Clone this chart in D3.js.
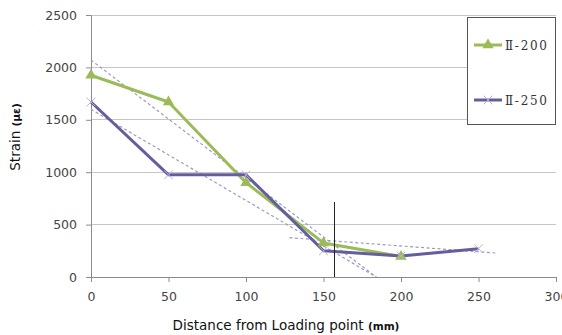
<!DOCTYPE html>
<html><head><meta charset="utf-8">
<script src="https://cdn.jsdelivr.net/npm/d3@7"></script>
<style>body{margin:0;background:#fff;}svg{display:block;}</style>
</head><body>
<svg id="c" width="562" height="335"></svg>
<script>
const distances = [0, 50, 100, 150, 200, 250];
const seriesNames = ["Ⅱ-200", "Ⅱ-250"];
const values200 = [1925, 1670, 900, 325, 195];
const values250 = [1670, 975, 975, 250, 200, 270];
const xTicks = [0, 50, 100, 150, 200, 250, 300];
const yTicks = [0, 500, 1000, 1500, 2000, 2500];
const trendA = [[0, 2070], [184, 0]];
const trendB = [[0, 1600], [184, 0]];
const trendC = [[128, 375], [262, 228]];
const refLine = [[157, 0], [157, 715]];

const svg = d3.select("#c");
const x = d3.scaleLinear().domain([0, 300]).range([91, 556]);
const y = d3.scaleLinear().domain([0, 2500]).range([277, 15]);
const font = "'DejaVu Sans', Verdana, sans-serif";

// gridlines
svg.append("g").selectAll("line").data(yTicks.filter(d => d > 0)).join("line")
  .attr("x1", x(0)).attr("x2", x(300)).attr("y1", d => y(d)).attr("y2", d => y(d))
  .attr("stroke", "#c6c6c6").attr("stroke-width", 1).attr("shape-rendering", "crispEdges");

// axes
const yAxis = svg.append("g").attr("transform", `translate(${x(0)},0)`)
  .call(d3.axisLeft(y).tickValues(yTicks).tickFormat(d3.format("d")).tickSize(5).tickPadding(9));
const xAxis = svg.append("g").attr("transform", `translate(0,${y(0)})`)
  .call(d3.axisBottom(x).tickValues(xTicks).tickFormat(d3.format("d")).tickSize(5).tickPadding(10));
[yAxis, xAxis].forEach(g => {
  g.select(".domain").attr("stroke", "#8c8c8c");
  g.selectAll(".tick line").attr("stroke", "#8c8c8c");
  g.selectAll(".tick text").attr("fill", "#444").style("font-family", font).style("font-size", "12.5px");
});

// trend lines
const lineGen = d3.line().x(d => x(d[0])).y(d => y(d[1]));
[trendA, trendB, trendC].forEach(t => {
  svg.append("path").attr("d", lineGen(t)).attr("fill", "none")
    .attr("stroke", "#9a9cc0").attr("stroke-width", 1.2).attr("stroke-dasharray", "3,2.5");
});

// series
const pts200 = values200.map((v, i) => [distances[i], v]);
const pts250 = values250.map((v, i) => [distances[i], v]);
const green = "#9bbb59", purple = "#645e9d";

svg.append("path").attr("d", lineGen(pts200)).attr("fill", "none")
  .attr("stroke", green).attr("stroke-width", 3).attr("stroke-linejoin", "round");
svg.append("path").attr("d", lineGen(pts250)).attr("fill", "none")
  .attr("stroke", purple).attr("stroke-width", 3).attr("stroke-linejoin", "round");

const tri = d3.symbol().type(d3.symbolTriangle).size(55);
svg.append("g").selectAll("path").data(pts200).join("path")
  .attr("d", tri).attr("transform", d => `translate(${x(d[0])},${y(d[1])})`)
  .attr("fill", green);
const cross = d3.symbol().type(d3.symbolX).size(50);
svg.append("g").selectAll("path").data(pts250).join("path")
  .attr("d", cross).attr("transform", d => `translate(${x(d[0])},${y(d[1])})`)
  .attr("fill", "none").attr("stroke", "#b6b2d6").attr("stroke-width", 1);

// reference vertical line
svg.append("path").attr("d", lineGen(refLine)).attr("stroke", "#222").attr("stroke-width", 1)
  .attr("shape-rendering", "crispEdges");

// legend
const lg = svg.append("g");
lg.append("rect").attr("x", 467.5).attr("y", 17.5).attr("width", 88).attr("height", 107)
  .attr("fill", "#fff").attr("stroke", "#555").attr("stroke-width", 1);
const legendItems = [{name: seriesNames[0], color: green, sym: tri, y: 45},
                     {name: seriesNames[1], color: purple, sym: cross, y: 100}];
legendItems.forEach((it, i) => {
  lg.append("line").attr("x1", 474).attr("x2", 502).attr("y1", it.y).attr("y2", it.y)
    .attr("stroke", it.color).attr("stroke-width", 3);
  const m = lg.append("path").attr("d", it.sym).attr("transform", `translate(488,${it.y})`);
  if (i === 0) m.attr("fill", green); else m.attr("fill", "none").attr("stroke", "#b6b2d6");
  lg.append("text").attr("x", 505).attr("y", it.y + 4.5).text(it.name)
    .attr("fill", "#333").style("font-family", "'DejaVu Serif', serif").style("font-size", "12px")
    .attr("textLength", 42);
});

// axis titles
const xt = svg.append("text").attr("x", 286).attr("y", 330).attr("text-anchor", "middle")
  .attr("fill", "#111").style("font-family", font).style("font-size", "13.5px");
xt.append("tspan").text("Distance from Loading point ");
xt.append("tspan").text("(mm)").style("font-size", "10.5px").style("font-weight", "bold");

const yt = svg.append("text").attr("transform", "translate(20,137) rotate(-90)")
  .attr("text-anchor", "middle").attr("fill", "#111")
  .style("font-family", font).style("font-size", "13.5px");
yt.append("tspan").text("Strain ");
yt.append("tspan").text("  (με)").style("font-size", "10.5px").style("font-weight", "bold");
</script>
</body></html>
